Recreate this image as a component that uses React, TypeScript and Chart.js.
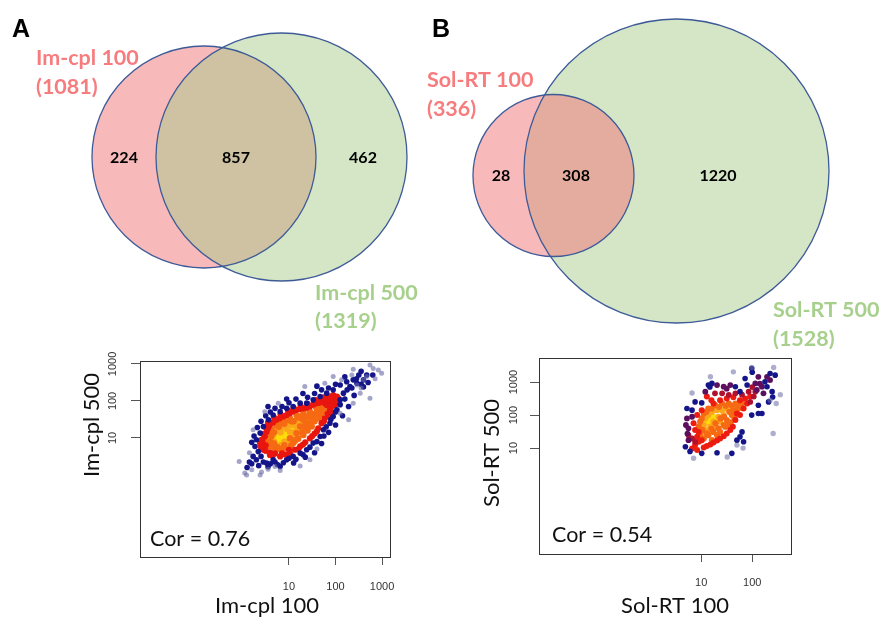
import React, { useEffect, useRef } from "react";
import { Chart, registerables } from "chart.js";
Chart.register(...registerables);

// ---------------- Venn data ----------------
const vennASets = ["Im-cpl 100", "Im-cpl 500"];
const vennATotals = [1081, 1319];
const vennACounts = [224, 857, 462]; // only left, both, only right
const vennBSets = ["Sol-RT 100", "Sol-RT 500"];
const vennBTotals = [336, 1528];
const vennBCounts = [28, 308, 1220];

// ---------------- Scatter tick labels ----------------
const aXTickValues = [1, 2, 3];
const aXTickLabels = ["10", "100", "1000"];
const aYTickValues = [1, 2, 3];
const aYTickLabels = ["10", "100", "1000"];
const bXTickValues = [1, 2];
const bXTickLabels = ["10", "100"];
const bYTickValues = [1, 2, 3];
const bYTickLabels = ["10", "100", "1000"];
const corA = "Cor = 0.76";
const corB = "Cor = 0.54";

// ---------------- Scatter A points (log10 x, log10 y), by density tier ----------------
const aGray = [
  [-0.07, 0.36], [0.09, 0.0], [0.2, 0.14], [0.38, 0.0], [0.05, 0.05], [0.41, 0.08], [0.7, 0.23], [0.81, 0.12], [1.24, 0.24], [1.45, 0.41],
  [0.23, 1.22], [0.48, 1.71], [0.77, 1.94], [1.34, 2.39], [1.77, 2.48], [1.95, 2.66], [2.38, 2.86], [2.81, 2.88], [2.99, 2.75], [2.92, 2.84],
  [2.67, 2.66], [2.53, 2.21], [2.74, 2.07], [2.28, 1.49], [2.38, 1.94], [2.1, 1.67], [2.46, 2.43], [2.6, 2.57], [2.35, 2.7], [2.13, 2.57],
  [2.74, 2.97], [2.55, 2.35], [2.85, 2.6], [0.15, 0.6], [1.6, 0.7], [0.55, 0.15],
];
const aNavy = [
  [0.23, 0.5], [0.3, 0.41], [0.52, 0.32], [0.66, 0.41], [0.81, 0.23], [0.95, 0.41], [1.09, 0.5], [1.24, 0.59], [1.38, 0.68], [1.52, 0.86],
  [1.67, 1.04], [1.74, 1.22], [1.88, 1.4], [1.95, 1.58], [2.03, 1.76], [2.1, 2.03], [2.17, 2.21], [2.31, 2.39], [2.46, 2.48], [2.6, 2.57],
  [2.67, 2.7], [2.38, 2.57], [2.24, 2.52], [2.1, 2.43], [1.95, 2.3], [1.81, 2.21], [1.67, 2.12], [1.52, 2.03], [1.38, 1.94], [1.24, 1.94],
  [1.09, 1.85], [0.95, 1.8], [0.81, 1.71], [0.66, 1.62], [0.56, 1.49], [0.45, 1.31], [0.38, 1.13], [0.3, 0.95], [0.27, 0.77], [0.34, 0.63],
  [0.15, 0.35], [0.1, 0.2], [0.2, 0.3], [0.4, 0.5], [0.45, 0.35], [0.6, 0.3], [0.7, 0.35], [0.88, 0.33], [1.0, 0.45], [1.15, 0.42],
  [1.3, 0.55], [1.45, 0.75], [1.6, 0.9], [1.75, 1.05], [1.8, 1.3], [1.9, 1.5], [2.0, 1.7], [2.1, 1.9], [2.2, 2.05], [2.25, 2.3],
  [2.35, 2.35], [2.45, 2.6], [2.55, 2.45], [2.5, 2.7], [2.2, 2.65], [2.0, 2.45], [1.85, 2.35], [1.7, 2.3], [1.55, 2.2], [1.4, 2.1],
  [1.15, 2.05], [1.0, 1.95], [0.85, 1.85], [0.7, 1.8], [0.6, 1.7], [0.5, 1.6], [0.4, 1.45], [0.32, 1.28], [0.25, 1.05], [0.2, 0.88],
  [0.35, 0.25], [0.55, 0.22], [0.75, 0.28], [1.1, 0.32], [1.35, 0.48], [1.55, 0.6], [1.7, 0.85], [1.85, 1.15], [2.0, 1.35], [2.15, 1.6],
  [2.28, 1.85], [2.4, 2.15], [2.6, 2.38], [2.7, 2.5], [2.8, 2.7], [2.55, 2.8], [1.6, 2.4], [1.3, 2.2], [0.95, 2.05], [0.55, 1.85],
];
const aRed = [
  [0.41, 0.95], [0.45, 0.68], [0.59, 0.54], [0.81, 0.5], [1.02, 0.59], [1.24, 0.77], [1.45, 0.99], [1.63, 1.26], [1.77, 1.53], [1.88, 1.76],
  [1.95, 1.98], [2.03, 2.12], [1.95, 2.16], [1.88, 2.12], [1.81, 2.07], [1.7, 2.03], [1.59, 1.94], [1.45, 1.85], [1.31, 1.8], [1.16, 1.76],
  [1.02, 1.67], [0.88, 1.58], [0.73, 1.49], [0.59, 1.35], [0.52, 1.17], [0.48, 1.04], [2.06, 2.07], [1.99, 1.89], [1.92, 2.07], [1.85, 1.98],
  [1.77, 1.94], [1.88, 2.03], [1.95, 2.07], [1.81, 1.89],
  [0.5, 0.8], [0.7, 0.58], [0.92, 0.55], [1.13, 0.68], [1.35, 0.88], [1.55, 1.12], [1.7, 1.4], [1.83, 1.65], [1.92, 1.85], [2.0, 2.0],
  [1.65, 1.95], [1.52, 1.9], [1.38, 1.82], [1.23, 1.78], [1.09, 1.72], [0.95, 1.62], [0.8, 1.53], [0.66, 1.42], [0.55, 1.26], [0.45, 1.1],
  [0.38, 0.85], [0.6, 0.6],
  [0.4, 0.75], [0.43, 0.9], [0.5, 0.65], [0.65, 0.52], [0.85, 0.58], [1.0, 0.68], [1.2, 0.7], [1.3, 0.82], [1.5, 1.05], [1.6, 1.18],
  [1.75, 1.45], [1.85, 1.58], [1.92, 1.7], [1.98, 2.1], [2.05, 1.98], [1.75, 2.1], [1.58, 2.02], [1.4, 1.92], [1.25, 1.86], [1.1, 1.8],
  [0.98, 1.74], [0.82, 1.64], [0.68, 1.55], [0.55, 1.42], [0.48, 1.3],
];
const aOrange = [
  [0.52, 0.9], [0.59, 0.77], [0.73, 0.68], [0.91, 0.72], [1.09, 0.86], [1.31, 1.08], [1.49, 1.31], [1.63, 1.53], [1.74, 1.71], [1.81, 1.85],
  [1.7, 1.85], [1.59, 1.8], [1.45, 1.71], [1.31, 1.67], [1.16, 1.62], [1.02, 1.53], [0.88, 1.44], [0.73, 1.35], [0.63, 1.22], [0.56, 1.08],
  [1.24, 1.31], [1.38, 1.4], [1.52, 1.58], [1.16, 1.13], [1.02, 0.99], [0.95, 1.49], [1.59, 1.67], [1.4, 1.2], [1.55, 1.45], [1.68, 1.62],
  [1.2, 0.98], [0.82, 0.7], [1.45, 1.55], [1.3, 1.5], [1.1, 1.45], [0.68, 0.75], [1.75, 1.8], [1.65, 1.75], [1.25, 1.58], [0.8, 1.4],
  [0.6, 0.9], [0.68, 0.85], [0.75, 0.75], [0.9, 0.8], [1.05, 0.8], [1.15, 0.95], [1.28, 1.15], [1.35, 1.2], [1.45, 1.35], [1.5, 1.48],
  [1.6, 1.55], [1.7, 1.68], [1.78, 1.78], [1.5, 1.65], [1.38, 1.58], [1.2, 1.55], [1.05, 1.45], [0.9, 1.38], [0.78, 1.3], [0.68, 1.15],
  [0.62, 1.05], [1.35, 1.35], [1.6, 1.8], [1.42, 1.78], [1.85, 1.92],
];
const aAmber = [
  [0.63, 0.95], [0.7, 0.81], [0.84, 0.81], [0.99, 0.9], [1.13, 1.04], [1.24, 1.17], [1.34, 1.26], [1.42, 1.44], [1.31, 1.49], [1.2, 1.44],
  [1.06, 1.35], [0.91, 1.31], [0.77, 1.22], [0.66, 1.08], [1.16, 1.31], [1.02, 1.17], [1.3, 1.38], [1.45, 1.5], [0.95, 0.82], [1.1, 1.15],
  [0.72, 1.3], [0.6, 1.0],
  [0.68, 0.9], [0.8, 0.78], [0.9, 0.9], [1.05, 0.95], [1.2, 1.08], [1.28, 1.3], [1.38, 1.38], [1.1, 1.38], [0.95, 1.25], [0.82, 1.15],
  [0.7, 1.18], [1.25, 1.42], [1.5, 1.6], [1.55, 1.55],
  [1.3, 1.2], [1.35, 1.45], [1.4, 1.3], [1.48, 1.42], [1.2, 1.25], [1.15, 1.48], [1.0, 1.4], [0.85, 1.3], [0.75, 1.25], [0.6, 1.12],
  [0.58, 0.95], [0.65, 0.82], [0.75, 0.72], [0.88, 0.74], [1.0, 0.8], [1.12, 0.9],
];
const aYellow = [
  [0.81, 0.95], [0.73, 0.99], [0.88, 1.04], [0.95, 1.08], [0.84, 0.9], [0.77, 1.08], [0.99, 1.17], [1.06, 1.08], [0.91, 1.17], [1.09, 1.22],
  [0.7, 0.9], [0.85, 1.15], [0.78, 0.88], [1.0, 1.0], [0.75, 1.0], [0.88, 0.97], [0.92, 1.1], [1.02, 1.12], [0.8, 1.1], [0.72, 0.95],
  [1.12, 1.15], [1.05, 1.2],
  [0.65, 0.95], [0.68, 1.05], [0.75, 1.15], [0.82, 1.2], [0.9, 1.25], [1.0, 1.28], [1.1, 1.3], [1.15, 1.25], [1.18, 1.2], [0.85, 0.85],
  [0.95, 0.95], [1.05, 1.05], [0.62, 0.98],
];

// ---------------- Scatter B points (log10 x, log10 y), by density tier ----------------
const bGray = [
  [1.18, 3.16], [1.63, 3.31], [1.99, 3.44], [2.42, 3.44], [2.55, 2.62], [2.47, 2.35], [2.41, 1.44], [0.85, 0.69], [0.82, 2.67], [1.82, 1.0],
  [1.7, 1.09], [1.51, 0.73], [2.35, 2.45],
];
const bNavy = [
  [1.14, 2.91], [1.21, 2.96], [0.88, 2.4], [1.01, 2.37], [0.82, 2.15], [0.69, 1.04], [1.01, 0.84], [1.31, 0.86], [1.6, 0.84], [1.7, 1.24],
  [1.8, 1.49], [1.83, 1.19], [1.76, 1.34], [1.99, 2.0], [2.12, 2.05], [2.19, 2.05], [2.12, 2.3], [2.32, 2.4], [2.39, 2.71], [2.29, 2.86],
  [1.86, 3.11], [1.99, 3.41], [2.35, 3.26], [2.45, 3.21], [2.25, 3.01], [1.67, 2.86], [1.76, 2.71], [1.9, 2.91], [0.72, 2.2], [0.78, 0.9],
  [1.17, 2.85], [2.0, 3.3], [2.4, 2.55],
];
const bPurple = [
  [0.72, 1.9], [0.75, 1.6], [0.73, 1.44], [0.75, 1.24], [1.31, 2.91], [1.44, 2.86], [1.57, 2.91], [2.06, 2.96], [2.12, 3.16], [2.19, 2.86],
  [2.29, 3.16], [2.35, 3.06], [2.22, 2.66], [2.09, 2.76], [1.08, 2.71], [0.82, 1.95], [0.7, 1.7], [2.15, 2.95], [1.5, 2.8],
];
const bCrimson = [
  [1.27, 2.66], [1.41, 2.66], [1.54, 2.61], [1.67, 2.66], [1.93, 2.71], [2.03, 2.56], [2.06, 2.71], [1.96, 2.4], [0.82, 1.29], [0.88, 1.19],
  [0.75, 1.39], [1.8, 2.62], [2.0, 2.85],
];
const bRed = [
  [1.05, 1.02], [1.11, 1.06], [1.18, 1.11], [1.24, 1.17], [1.31, 1.23], [1.37, 1.29], [1.44, 1.36], [1.5, 1.44], [1.57, 1.55], [1.62, 1.65],
  [1.01, 1.24], [0.88, 1.09], [0.82, 0.99], [0.92, 0.94], [1.24, 2.35], [1.37, 2.45], [1.5, 2.5], [1.63, 2.54], [1.76, 2.45], [1.86, 2.5],
  [1.96, 2.56], [1.9, 2.35], [1.83, 2.2], [1.7, 2.05], [1.76, 2.0], [1.67, 1.85], [0.95, 1.49], [0.92, 1.34], [0.95, 1.19], [1.11, 2.56],
  [1.01, 2.15], [0.92, 2.0], [0.85, 1.75], [0.88, 1.55], [1.2, 2.45],
];
const bOrange = [
  [1.05, 2.05], [1.14, 2.2], [1.27, 2.3], [1.41, 2.35], [1.54, 2.35], [1.67, 2.35], [1.8, 2.35], [1.73, 2.2], [1.63, 2.15], [1.6, 2.0],
  [1.5, 1.85], [1.44, 1.7], [1.34, 1.6], [1.24, 1.49], [1.14, 1.39], [1.05, 1.29], [0.98, 1.39], [0.95, 1.65], [0.98, 1.8], [1.01, 1.9],
  [1.21, 1.24], [1.31, 1.39], [1.37, 1.49], [1.47, 1.65], [1.54, 1.7],
  [1.1, 2.1], [1.2, 2.2], [1.35, 2.25], [1.48, 2.28], [1.6, 2.28], [1.7, 2.3], [1.55, 2.1], [1.45, 1.95], [1.38, 1.9], [1.28, 1.75],
  [1.2, 1.58], [1.1, 1.45], [1.02, 1.55], [1.58, 1.78], [1.65, 1.92],
];
const bAmber = [
  [1.08, 1.9], [1.14, 2.0], [1.21, 2.1], [1.31, 2.15], [1.41, 2.15], [1.5, 2.2], [1.44, 2.0], [1.34, 1.95], [1.24, 1.8], [1.18, 1.65],
  [1.08, 1.55], [1.05, 1.7], [1.27, 1.65], [1.37, 1.8], [1.14, 1.49],
];
const bYellow = [
  [1.11, 1.85], [1.18, 1.9], [1.14, 1.75], [1.21, 1.75], [1.24, 1.95], [1.08, 1.75], [1.27, 1.85], [1.18, 2.05],
];

// ---------------- Styles / layout ----------------
const PINK = "#f8b9ba";
const GREEN = "#d4e6c5";
const STROKE = "#3e5b98";
const LABEL_RED = "#f67c7e";
const LABEL_GREEN = "#a8d08d";
const FONT_C = "Lato, 'Open Sans', sans-serif";

const vennPanels = [
  {
    sets: vennASets, totals: vennATotals, counts: vennACounts,
    left: { cx: 204, cy: 157, rx: 112, ry: 111 },
    right: { cx: 281.5, cy: 157, rx: 125.5, ry: 124 },
    overlap: "#cec2a2",
    countPos: [[124, 158], [236, 158], [363, 158]],
    leftLabel: [36, 65, 94],
    rightLabel: [315, 300, 328],
    letter: ["A", 12, 37],
  },
  {
    sets: vennBSets, totals: vennBTotals, counts: vennBCounts,
    left: { cx: 553.5, cy: 175.5, rx: 80.5, ry: 81 },
    right: { cx: 676.5, cy: 171, rx: 152.5, ry: 152 },
    overlap: "#e4ab9f",
    countPos: [[501, 176], [576, 176], [718, 176]],
    leftLabel: [427, 87, 116],
    rightLabel: [773, 317, 346],
    letter: ["B", 432, 37],
  },
];

const vennPlugin = {
  id: "vennDraw",
  afterDraw(chart: any) {
    const { ctx } = chart;
    const sx = chart.scales.x;
    const sy = chart.scales.y;
    const px = (v: number) => sx.getPixelForValue(v);
    const py = (v: number) => sy.getPixelForValue(v);
    const ell = (e: any) => {
      ctx.beginPath();
      ctx.ellipse(px(e.cx), py(e.cy), Math.abs(px(e.cx + e.rx) - px(e.cx)), Math.abs(py(e.cy + e.ry) - py(e.cy)), 0, 0, Math.PI * 2);
    };
    for (const v of vennPanels) {
      ctx.save();
      ell(v.left); ctx.fillStyle = PINK; ctx.fill();
      ell(v.right); ctx.fillStyle = GREEN; ctx.fill();
      ell(v.left); ctx.clip();
      ell(v.right); ctx.fillStyle = v.overlap; ctx.fill();
      ctx.restore();
      ctx.save();
      ctx.strokeStyle = STROKE; ctx.lineWidth = 1.3;
      ell(v.left); ctx.stroke();
      ell(v.right); ctx.stroke();
      ctx.restore();

      ctx.save();
      ctx.fillStyle = "#000";
      ctx.font = `bold 16px ${FONT_C}`;
      ctx.textAlign = "center";
      ctx.textBaseline = "middle";
      v.counts.forEach((c: number, i: number) => {
        ctx.fillText(String(c), px(v.countPos[i][0]), py(v.countPos[i][1]));
      });
      ctx.textAlign = "left";
      ctx.textBaseline = "alphabetic";
      ctx.font = `bold 21.5px ${FONT_C}`;
      ctx.fillStyle = LABEL_RED;
      ctx.fillText(v.sets[0], px(v.leftLabel[0]), py(v.leftLabel[1]));
      ctx.fillText(`(${v.totals[0]})`, px(v.leftLabel[0]), py(v.leftLabel[2]));
      ctx.fillStyle = LABEL_GREEN;
      ctx.fillText(v.sets[1], px(v.rightLabel[0]), py(v.rightLabel[1]));
      ctx.fillText(`(${v.totals[1]})`, px(v.rightLabel[0]), py(v.rightLabel[2]));
      ctx.fillStyle = "#000";
      ctx.font = `bold 25px 'Liberation Sans', Arial, sans-serif`;
      ctx.fillText(v.letter[0] as string, px(v.letter[1] as number), py(v.letter[2] as number));
      ctx.restore();
    }
  },
};

function vennConfig(): any {
  return {
    type: "scatter",
    data: { datasets: [] },
    options: {
      responsive: false,
      animation: false,
      events: [],
      layout: { padding: 0 },
      plugins: { legend: { display: false }, tooltip: { enabled: false } },
      scales: {
        x: { type: "linear", min: 0, max: 880, display: false },
        y: { type: "linear", min: 0, max: 619, reverse: true, display: false },
      },
    },
    plugins: [vennPlugin],
  };
}

const fixBox = (dim: "w" | "h", size: number) => (s: any) => {
  if (dim === "w") s.width = size;
  else s.height = size;
  s.paddingLeft = 0; s.paddingRight = 0; s.paddingTop = 0; s.paddingBottom = 0;
};

function scatterConfig(c: any): any {
  const datasets = c.tiers.map((pts: number[][], i: number) => ({
    data: pts.map(([x, y]) => ({ x, y })),
    backgroundColor: c.colors[i],
    borderWidth: 0,
    pointRadius: c.radii[i],
    pointHoverRadius: c.radii[i],
  }));
  const tickFont = { family: "'Liberation Sans', Arial, sans-serif", size: 11 };
  const decor = {
    id: "scatterDecor",
    afterDraw(chart: any) {
      const { ctx, chartArea: a } = chart;
      ctx.save();
      ctx.strokeStyle = "#333";
      ctx.lineWidth = 1;
      ctx.strokeRect(Math.round(a.left) + 0.5, Math.round(a.top) + 0.5, Math.round(a.right - a.left), Math.round(a.bottom - a.top));
      ctx.fillStyle = "#111";
      ctx.font = `21.5px ${FONT_C}`;
      ctx.textAlign = "left";
      ctx.textBaseline = "alphabetic";
      ctx.fillText(c.cor, a.left + c.corOff[0], a.bottom - c.corOff[1]);
      ctx.font = `22px ${FONT_C}`;
      ctx.textAlign = "center";
      ctx.fillText(c.xTitle, c.xTitlePos[0], c.xTitlePos[1]);
      ctx.translate(c.yTitlePos[0], c.yTitlePos[1]);
      ctx.rotate(-Math.PI / 2);
      ctx.fillText(c.yTitle, 0, 0);
      ctx.restore();
    },
  };
  return {
    type: "scatter",
    data: { datasets },
    options: {
      responsive: false,
      animation: false,
      events: [],
      layout: { padding: c.pad },
      plugins: { legend: { display: false }, tooltip: { enabled: false } },
      scales: {
        x: {
          type: "linear", min: c.xRange[0], max: c.xRange[1],
          afterBuildTicks: (s: any) => { s.ticks = c.xTicks.map((value: number) => ({ value })); },
          ticks: {
            callback: (_v: any, i: number) => c.xLabels[i],
            font: tickFont, color: "#333", padding: c.xPad, maxRotation: 0, minRotation: 0, autoSkip: false,
          },
          grid: { drawOnChartArea: false, drawTicks: true, tickLength: 8, color: "#555" },
          border: { display: false },
          afterFit: fixBox("h", c.xH),
        },
        y: {
          type: "linear", min: c.yRange[0], max: c.yRange[1],
          afterBuildTicks: (s: any) => { s.ticks = c.yTicks.map((value: number) => ({ value })); },
          ticks: {
            callback: (_v: any, i: number) => c.yLabels[i],
            font: tickFont, color: "#333", padding: c.yPad, minRotation: 90, maxRotation: 90, crossAlign: "center", autoSkip: false,
          },
          grid: { drawOnChartArea: false, drawTicks: true, tickLength: 9, color: "#555" },
          border: { display: false },
          afterFit: fixBox("w", c.yW),
        },
      },
    },
    plugins: [decor],
  };
}

const scatterA = {
  tiers: [aGray, aNavy, aRed, aOrange, aAmber, aYellow],
  colors: ["rgba(105,105,165,0.6)", "#15158a", "#e8160f", "#f56a12", "#fba71c", "#ffdc08"],
  radii: [2.5, 2.8, 3.1, 3.2, 3.2, 3.2],
  xRange: [-2.2, 3.17], yRange: [-2.22, 3.08],
  xTicks: aXTickValues, xLabels: aXTickLabels, yTicks: aYTickValues, yLabels: aYTickLabels,
  xPad: 15, yPad: 6, xH: 62, yW: 80,
  pad: { top: 13, right: 15, left: 0, bottom: 0 },
  cor: corA, corOff: [10, 11],
  xTitle: vennASets[0], xTitlePos: [207, 265],
  yTitle: vennASets[1], yTitlePos: [39, 77],
};

const scatterB = {
  tiers: [bGray, bNavy, bPurple, bCrimson, bRed, bOrange, bAmber, bYellow],
  colors: ["rgba(105,105,165,0.55)", "#15158a", "#5c0f5e", "#b0122e", "#ee1c10", "#f56a12", "#fba71c", "#ffdc08"],
  radii: [2.7, 2.8, 2.9, 2.9, 3.0, 3.1, 3.1, 3.1],
  xRange: [-2.18, 2.76], yRange: [-2.21, 3.73],
  xTicks: bXTickValues, xLabels: bXTickLabels, yTicks: bYTickValues, yLabels: bYTickLabels,
  xPad: 14, yPad: 4, xH: 65, yW: 69,
  pad: { top: 12, right: 9, left: 0, bottom: 0 },
  cor: corB, corOff: [13, 12],
  xTitle: vennBSets[0], xTitlePos: [205, 267],
  yTitle: vennBSets[1], yTitlePos: [29, 107],
};

export default function App() {
  const vennRef = useRef<HTMLCanvasElement | null>(null);
  const aRef = useRef<HTMLCanvasElement | null>(null);
  const bRef = useRef<HTMLCanvasElement | null>(null);
  useEffect(() => {
    const charts = [
      new Chart(vennRef.current as HTMLCanvasElement, vennConfig()),
      new Chart(aRef.current as HTMLCanvasElement, scatterConfig(scatterA)),
      new Chart(bRef.current as HTMLCanvasElement, scatterConfig(scatterB)),
    ];
    return () => charts.forEach((ch) => ch.destroy());
  }, []);
  return (
    <div style={{ position: "fixed", left: 0, top: 0, width: 880, height: 619, background: "#fff", overflow: "hidden" }}>
      <canvas ref={vennRef} width={880} height={619} style={{ position: "absolute", left: 0, top: 0 }} />
      <canvas ref={aRef} width={345} height={271} style={{ position: "absolute", left: 60, top: 348 }} />
      <canvas ref={bRef} width={330} height={273} style={{ position: "absolute", left: 470, top: 346 }} />
    </div>
  );
}
